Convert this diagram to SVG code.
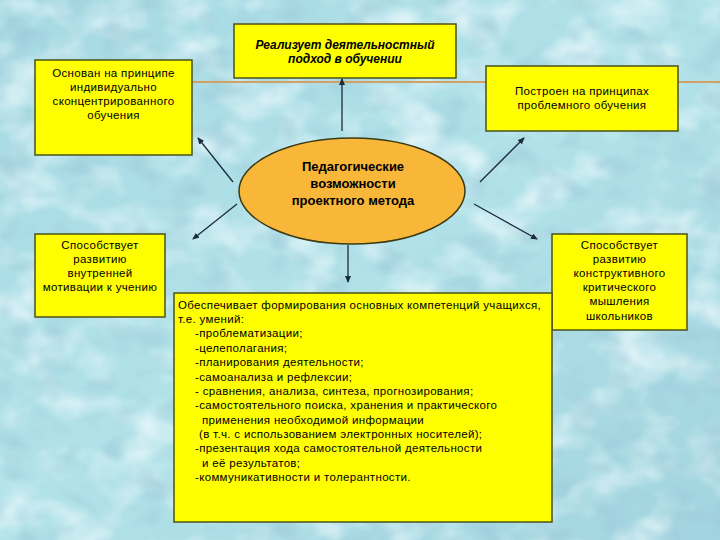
<svg xmlns="http://www.w3.org/2000/svg" width="720" height="540" viewBox="0 0 720 540">
<defs>
<linearGradient id="bg" x1="0" y1="0" x2="1" y2="1">
<stop offset="0" stop-color="#a6d9e3"/>
<stop offset="0.5" stop-color="#b2e2e9"/>
<stop offset="1" stop-color="#a2d4df"/>
</linearGradient>
<filter id="lite" x="0" y="0" width="100%" height="100%">
<feTurbulence type="fractalNoise" baseFrequency="0.018 0.024" numOctaves="3" seed="7"/>
<feColorMatrix type="matrix" values="0 0 0 0 0.9  0 0 0 0 0.98  0 0 0 0 1  1.8 0 0 0 -0.8"/>
</filter>
<filter id="dark" x="0" y="0" width="100%" height="100%">
<feTurbulence type="fractalNoise" baseFrequency="0.03 0.04" numOctaves="2" seed="3"/>
<feColorMatrix type="matrix" values="0 0 0 0 0.33  0 0 0 0 0.58  0 0 0 0 0.68  1.6 0 0 0 -0.76"/>
</filter>
<marker id="ah" markerWidth="7" markerHeight="6" refX="6" refY="3" orient="auto" markerUnits="userSpaceOnUse">
<path d="M0,0 L7,3 L0,6 z" fill="#1c2c3c"/>
</marker>
<style>
.box{fill:#ffff00;stroke:#4a5214;stroke-width:1.5}
.t{font-family:"Liberation Sans",Arial,sans-serif;font-size:11.5px;fill:#000;letter-spacing:0.33px}
.c{text-anchor:middle}
.bi{font-weight:bold;font-style:italic;font-size:12px;letter-spacing:0}
.b{font-weight:bold;font-size:13px;letter-spacing:0}
.con line{stroke:#1c2c3c;stroke-width:1.3;marker-end:url(#ah)}
</style>
</defs>
<rect width="720" height="540" fill="url(#bg)"/>
<rect width="720" height="540" filter="url(#lite)"/>
<rect width="720" height="540" filter="url(#dark)"/>
<line x1="192" y1="82" x2="720" y2="82" stroke="#d2a062" stroke-width="2"/>

<g id="connectors" class="con">
<line x1="342" y1="131" x2="342" y2="79"/>
<line x1="233" y1="182" x2="198" y2="138"/>
<line x1="237" y1="204" x2="193" y2="239"/>
<line x1="480" y1="182" x2="524" y2="138"/>
<line x1="474" y1="204" x2="537" y2="239"/>
<line x1="348" y1="245" x2="348" y2="282"/>
</g>

<g id="center">
<ellipse cx="352" cy="191" rx="113" ry="53" fill="#f9b73a" stroke="#3a3a14" stroke-width="1.5"/>
<text class="t c b" x="353" y="171">Педагогические</text>
<text class="t c b" x="353" y="188">возможности</text>
<text class="t c b" x="353" y="205">проектного метода</text>
</g>

<g id="top">
<rect class="box" x="234" y="24" width="222" height="54"/>
<text class="t c bi" x="345" y="49">Реализует деятельностный</text>
<text class="t c bi" x="345" y="63">подход в обучении</text>
</g>

<g id="left-top">
<rect class="box" x="35" y="60" width="157" height="95"/>
<text class="t c" x="113.5" y="77">Основан на принципе</text>
<text class="t c" x="113.5" y="91">индивидуально</text>
<text class="t c" x="113.5" y="105">сконцентрированного</text>
<text class="t c" x="113.5" y="119">обучения</text>
</g>

<g id="right-top">
<rect class="box" x="486" y="66" width="192" height="65"/>
<text class="t c" x="582" y="95">Построен на принципах</text>
<text class="t c" x="582" y="109">проблемного обучения</text>
</g>

<g id="left-bottom">
<rect class="box" x="35" y="234" width="130" height="83"/>
<text class="t c" x="100" y="249">Способствует</text>
<text class="t c" x="100" y="263">развитию</text>
<text class="t c" x="100" y="277">внутренней</text>
<text class="t c" x="100" y="291">мотивации к учению</text>
</g>

<g id="right-bottom">
<rect class="box" x="552" y="234" width="135" height="96"/>
<text class="t c" x="619.5" y="249">Способствует</text>
<text class="t c" x="619.5" y="263">развитию</text>
<text class="t c" x="619.5" y="277">конструктивного</text>
<text class="t c" x="619.5" y="291">критического</text>
<text class="t c" x="619.5" y="305">мышления</text>
<text class="t c" x="619.5" y="320">школьников</text>
</g>

<g id="bottom">
<rect class="box" x="174" y="293" width="378" height="229"/>
<text class="t" x="178" y="309">Обеспечивает формирования основных компетенций учащихся,</text>
<text class="t" x="178" y="323">т.е. умений:</text>
<text class="t" x="195" y="337">-проблематизации;</text>
<text class="t" x="195" y="352">-целеполагания;</text>
<text class="t" x="195" y="366">-планирования деятельности;</text>
<text class="t" x="195" y="381">-самоанализа и рефлексии;</text>
<text class="t" x="195" y="395">- сравнения, анализа, синтеза, прогнозирования;</text>
<text class="t" x="195" y="409">-самостоятельного поиска, хранения и практического</text>
<text class="t" x="202" y="424">применения необходимой информации</text>
<text class="t" x="199" y="438">(в т.ч. с использованием электронных носителей);</text>
<text class="t" x="195" y="452">-презентация хода самостоятельной деятельности</text>
<text class="t" x="202" y="467">и её результатов;</text>
<text class="t" x="195" y="481">-коммуникативности и толерантности.</text>
</g>
</svg>
